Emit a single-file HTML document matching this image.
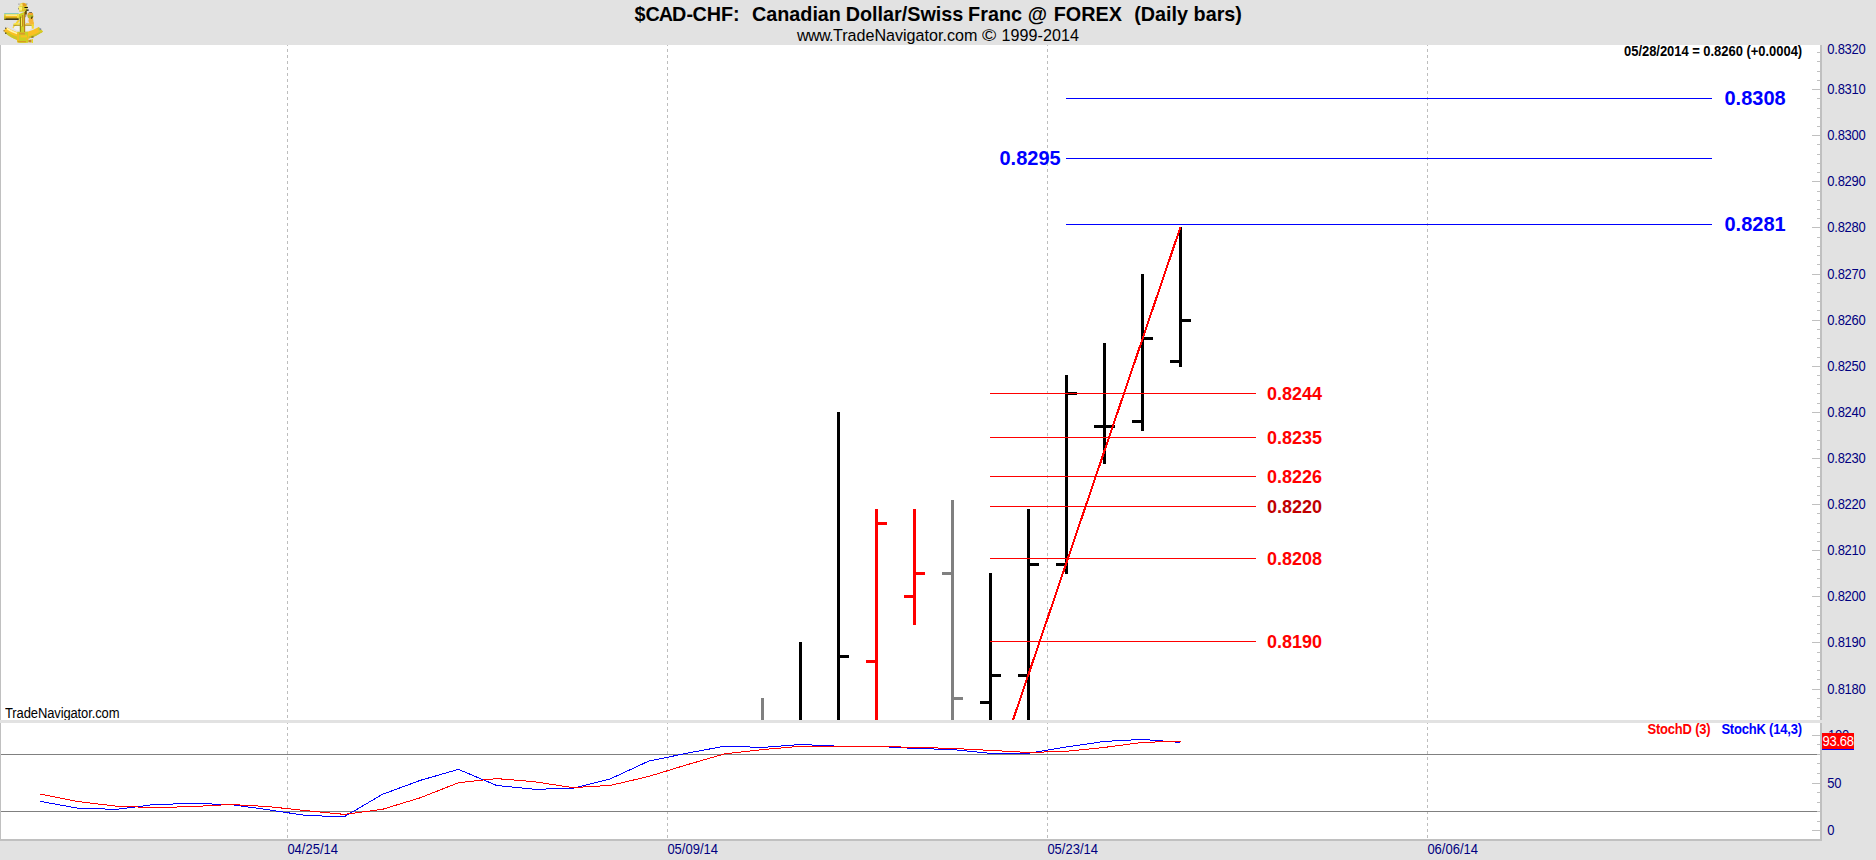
<!DOCTYPE html><html><head><meta charset="utf-8"><title>$CAD-CHF</title><style>
html,body{margin:0;padding:0;background:#fff;}
body{width:1876px;height:860px;position:relative;overflow:hidden;font-family:"Liberation Sans",sans-serif;}
svg{position:absolute;left:0;top:0;}
.t{position:absolute;white-space:pre;line-height:1;}
</style></head><body>
<svg width="1876" height="860" viewBox="0 0 1876 860" shape-rendering="crispEdges">
<rect x="0" y="0" width="1876" height="45" fill="#e2e2e2"/>
<rect x="1822" y="45" width="54" height="815" fill="#e2e2e2"/>
<rect x="0" y="841" width="1876" height="19" fill="#e2e2e2"/>
<rect x="0" y="720" width="1822" height="3" fill="#e2e2e2"/>
<rect x="0" y="45" width="1" height="675" fill="#c0c0c0"/>
<rect x="0" y="723" width="1" height="118" fill="#c0c0c0"/>
<rect x="1820" y="45" width="2" height="675" fill="#c0c0c0"/>
<rect x="1820" y="723" width="2" height="118" fill="#c0c0c0"/>
<rect x="0" y="839" width="1822" height="2" fill="#c0c0c0"/>
<g fill="#bdbdbd">
<rect x="287" y="45" width="1" height="1"/>
<rect x="287" y="49" width="1" height="3"/>
<rect x="287" y="55" width="1" height="3"/>
<rect x="287" y="61" width="1" height="3"/>
<rect x="287" y="67" width="1" height="3"/>
<rect x="287" y="73" width="1" height="3"/>
<rect x="287" y="79" width="1" height="3"/>
<rect x="287" y="85" width="1" height="3"/>
<rect x="287" y="91" width="1" height="3"/>
<rect x="287" y="97" width="1" height="3"/>
<rect x="287" y="103" width="1" height="3"/>
<rect x="287" y="109" width="1" height="3"/>
<rect x="287" y="115" width="1" height="3"/>
<rect x="287" y="121" width="1" height="3"/>
<rect x="287" y="127" width="1" height="3"/>
<rect x="287" y="133" width="1" height="3"/>
<rect x="287" y="139" width="1" height="3"/>
<rect x="287" y="145" width="1" height="3"/>
<rect x="287" y="151" width="1" height="3"/>
<rect x="287" y="157" width="1" height="3"/>
<rect x="287" y="163" width="1" height="3"/>
<rect x="287" y="169" width="1" height="3"/>
<rect x="287" y="175" width="1" height="3"/>
<rect x="287" y="181" width="1" height="3"/>
<rect x="287" y="187" width="1" height="3"/>
<rect x="287" y="193" width="1" height="3"/>
<rect x="287" y="199" width="1" height="3"/>
<rect x="287" y="205" width="1" height="3"/>
<rect x="287" y="211" width="1" height="3"/>
<rect x="287" y="217" width="1" height="3"/>
<rect x="287" y="223" width="1" height="3"/>
<rect x="287" y="229" width="1" height="3"/>
<rect x="287" y="235" width="1" height="3"/>
<rect x="287" y="241" width="1" height="3"/>
<rect x="287" y="247" width="1" height="3"/>
<rect x="287" y="253" width="1" height="3"/>
<rect x="287" y="259" width="1" height="3"/>
<rect x="287" y="265" width="1" height="3"/>
<rect x="287" y="271" width="1" height="3"/>
<rect x="287" y="277" width="1" height="3"/>
<rect x="287" y="283" width="1" height="3"/>
<rect x="287" y="289" width="1" height="3"/>
<rect x="287" y="295" width="1" height="3"/>
<rect x="287" y="301" width="1" height="3"/>
<rect x="287" y="307" width="1" height="3"/>
<rect x="287" y="313" width="1" height="3"/>
<rect x="287" y="319" width="1" height="3"/>
<rect x="287" y="325" width="1" height="3"/>
<rect x="287" y="331" width="1" height="3"/>
<rect x="287" y="337" width="1" height="3"/>
<rect x="287" y="343" width="1" height="3"/>
<rect x="287" y="349" width="1" height="3"/>
<rect x="287" y="355" width="1" height="3"/>
<rect x="287" y="361" width="1" height="3"/>
<rect x="287" y="367" width="1" height="3"/>
<rect x="287" y="373" width="1" height="3"/>
<rect x="287" y="379" width="1" height="3"/>
<rect x="287" y="385" width="1" height="3"/>
<rect x="287" y="391" width="1" height="3"/>
<rect x="287" y="397" width="1" height="3"/>
<rect x="287" y="403" width="1" height="3"/>
<rect x="287" y="409" width="1" height="3"/>
<rect x="287" y="415" width="1" height="3"/>
<rect x="287" y="421" width="1" height="3"/>
<rect x="287" y="427" width="1" height="3"/>
<rect x="287" y="433" width="1" height="3"/>
<rect x="287" y="439" width="1" height="3"/>
<rect x="287" y="445" width="1" height="3"/>
<rect x="287" y="451" width="1" height="3"/>
<rect x="287" y="457" width="1" height="3"/>
<rect x="287" y="463" width="1" height="3"/>
<rect x="287" y="469" width="1" height="3"/>
<rect x="287" y="475" width="1" height="3"/>
<rect x="287" y="481" width="1" height="3"/>
<rect x="287" y="487" width="1" height="3"/>
<rect x="287" y="493" width="1" height="3"/>
<rect x="287" y="499" width="1" height="3"/>
<rect x="287" y="505" width="1" height="3"/>
<rect x="287" y="511" width="1" height="3"/>
<rect x="287" y="517" width="1" height="3"/>
<rect x="287" y="523" width="1" height="3"/>
<rect x="287" y="529" width="1" height="3"/>
<rect x="287" y="535" width="1" height="3"/>
<rect x="287" y="541" width="1" height="3"/>
<rect x="287" y="547" width="1" height="3"/>
<rect x="287" y="553" width="1" height="3"/>
<rect x="287" y="559" width="1" height="3"/>
<rect x="287" y="565" width="1" height="3"/>
<rect x="287" y="571" width="1" height="3"/>
<rect x="287" y="577" width="1" height="3"/>
<rect x="287" y="583" width="1" height="3"/>
<rect x="287" y="589" width="1" height="3"/>
<rect x="287" y="595" width="1" height="3"/>
<rect x="287" y="601" width="1" height="3"/>
<rect x="287" y="607" width="1" height="3"/>
<rect x="287" y="613" width="1" height="3"/>
<rect x="287" y="619" width="1" height="3"/>
<rect x="287" y="625" width="1" height="3"/>
<rect x="287" y="631" width="1" height="3"/>
<rect x="287" y="637" width="1" height="3"/>
<rect x="287" y="643" width="1" height="3"/>
<rect x="287" y="649" width="1" height="3"/>
<rect x="287" y="655" width="1" height="3"/>
<rect x="287" y="661" width="1" height="3"/>
<rect x="287" y="667" width="1" height="3"/>
<rect x="287" y="673" width="1" height="3"/>
<rect x="287" y="679" width="1" height="3"/>
<rect x="287" y="685" width="1" height="3"/>
<rect x="287" y="691" width="1" height="3"/>
<rect x="287" y="697" width="1" height="3"/>
<rect x="287" y="703" width="1" height="3"/>
<rect x="287" y="709" width="1" height="3"/>
<rect x="287" y="715" width="1" height="3"/>
<rect x="287" y="721" width="1" height="3"/>
<rect x="287" y="727" width="1" height="3"/>
<rect x="287" y="733" width="1" height="3"/>
<rect x="287" y="739" width="1" height="3"/>
<rect x="287" y="745" width="1" height="3"/>
<rect x="287" y="751" width="1" height="3"/>
<rect x="287" y="757" width="1" height="3"/>
<rect x="287" y="763" width="1" height="3"/>
<rect x="287" y="769" width="1" height="3"/>
<rect x="287" y="775" width="1" height="3"/>
<rect x="287" y="781" width="1" height="3"/>
<rect x="287" y="787" width="1" height="3"/>
<rect x="287" y="793" width="1" height="3"/>
<rect x="287" y="799" width="1" height="3"/>
<rect x="287" y="805" width="1" height="3"/>
<rect x="287" y="811" width="1" height="3"/>
<rect x="287" y="817" width="1" height="3"/>
<rect x="287" y="823" width="1" height="3"/>
<rect x="287" y="829" width="1" height="3"/>
<rect x="287" y="835" width="1" height="3"/>
</g>
<g fill="#bdbdbd">
<rect x="667" y="45" width="1" height="1"/>
<rect x="667" y="49" width="1" height="3"/>
<rect x="667" y="55" width="1" height="3"/>
<rect x="667" y="61" width="1" height="3"/>
<rect x="667" y="67" width="1" height="3"/>
<rect x="667" y="73" width="1" height="3"/>
<rect x="667" y="79" width="1" height="3"/>
<rect x="667" y="85" width="1" height="3"/>
<rect x="667" y="91" width="1" height="3"/>
<rect x="667" y="97" width="1" height="3"/>
<rect x="667" y="103" width="1" height="3"/>
<rect x="667" y="109" width="1" height="3"/>
<rect x="667" y="115" width="1" height="3"/>
<rect x="667" y="121" width="1" height="3"/>
<rect x="667" y="127" width="1" height="3"/>
<rect x="667" y="133" width="1" height="3"/>
<rect x="667" y="139" width="1" height="3"/>
<rect x="667" y="145" width="1" height="3"/>
<rect x="667" y="151" width="1" height="3"/>
<rect x="667" y="157" width="1" height="3"/>
<rect x="667" y="163" width="1" height="3"/>
<rect x="667" y="169" width="1" height="3"/>
<rect x="667" y="175" width="1" height="3"/>
<rect x="667" y="181" width="1" height="3"/>
<rect x="667" y="187" width="1" height="3"/>
<rect x="667" y="193" width="1" height="3"/>
<rect x="667" y="199" width="1" height="3"/>
<rect x="667" y="205" width="1" height="3"/>
<rect x="667" y="211" width="1" height="3"/>
<rect x="667" y="217" width="1" height="3"/>
<rect x="667" y="223" width="1" height="3"/>
<rect x="667" y="229" width="1" height="3"/>
<rect x="667" y="235" width="1" height="3"/>
<rect x="667" y="241" width="1" height="3"/>
<rect x="667" y="247" width="1" height="3"/>
<rect x="667" y="253" width="1" height="3"/>
<rect x="667" y="259" width="1" height="3"/>
<rect x="667" y="265" width="1" height="3"/>
<rect x="667" y="271" width="1" height="3"/>
<rect x="667" y="277" width="1" height="3"/>
<rect x="667" y="283" width="1" height="3"/>
<rect x="667" y="289" width="1" height="3"/>
<rect x="667" y="295" width="1" height="3"/>
<rect x="667" y="301" width="1" height="3"/>
<rect x="667" y="307" width="1" height="3"/>
<rect x="667" y="313" width="1" height="3"/>
<rect x="667" y="319" width="1" height="3"/>
<rect x="667" y="325" width="1" height="3"/>
<rect x="667" y="331" width="1" height="3"/>
<rect x="667" y="337" width="1" height="3"/>
<rect x="667" y="343" width="1" height="3"/>
<rect x="667" y="349" width="1" height="3"/>
<rect x="667" y="355" width="1" height="3"/>
<rect x="667" y="361" width="1" height="3"/>
<rect x="667" y="367" width="1" height="3"/>
<rect x="667" y="373" width="1" height="3"/>
<rect x="667" y="379" width="1" height="3"/>
<rect x="667" y="385" width="1" height="3"/>
<rect x="667" y="391" width="1" height="3"/>
<rect x="667" y="397" width="1" height="3"/>
<rect x="667" y="403" width="1" height="3"/>
<rect x="667" y="409" width="1" height="3"/>
<rect x="667" y="415" width="1" height="3"/>
<rect x="667" y="421" width="1" height="3"/>
<rect x="667" y="427" width="1" height="3"/>
<rect x="667" y="433" width="1" height="3"/>
<rect x="667" y="439" width="1" height="3"/>
<rect x="667" y="445" width="1" height="3"/>
<rect x="667" y="451" width="1" height="3"/>
<rect x="667" y="457" width="1" height="3"/>
<rect x="667" y="463" width="1" height="3"/>
<rect x="667" y="469" width="1" height="3"/>
<rect x="667" y="475" width="1" height="3"/>
<rect x="667" y="481" width="1" height="3"/>
<rect x="667" y="487" width="1" height="3"/>
<rect x="667" y="493" width="1" height="3"/>
<rect x="667" y="499" width="1" height="3"/>
<rect x="667" y="505" width="1" height="3"/>
<rect x="667" y="511" width="1" height="3"/>
<rect x="667" y="517" width="1" height="3"/>
<rect x="667" y="523" width="1" height="3"/>
<rect x="667" y="529" width="1" height="3"/>
<rect x="667" y="535" width="1" height="3"/>
<rect x="667" y="541" width="1" height="3"/>
<rect x="667" y="547" width="1" height="3"/>
<rect x="667" y="553" width="1" height="3"/>
<rect x="667" y="559" width="1" height="3"/>
<rect x="667" y="565" width="1" height="3"/>
<rect x="667" y="571" width="1" height="3"/>
<rect x="667" y="577" width="1" height="3"/>
<rect x="667" y="583" width="1" height="3"/>
<rect x="667" y="589" width="1" height="3"/>
<rect x="667" y="595" width="1" height="3"/>
<rect x="667" y="601" width="1" height="3"/>
<rect x="667" y="607" width="1" height="3"/>
<rect x="667" y="613" width="1" height="3"/>
<rect x="667" y="619" width="1" height="3"/>
<rect x="667" y="625" width="1" height="3"/>
<rect x="667" y="631" width="1" height="3"/>
<rect x="667" y="637" width="1" height="3"/>
<rect x="667" y="643" width="1" height="3"/>
<rect x="667" y="649" width="1" height="3"/>
<rect x="667" y="655" width="1" height="3"/>
<rect x="667" y="661" width="1" height="3"/>
<rect x="667" y="667" width="1" height="3"/>
<rect x="667" y="673" width="1" height="3"/>
<rect x="667" y="679" width="1" height="3"/>
<rect x="667" y="685" width="1" height="3"/>
<rect x="667" y="691" width="1" height="3"/>
<rect x="667" y="697" width="1" height="3"/>
<rect x="667" y="703" width="1" height="3"/>
<rect x="667" y="709" width="1" height="3"/>
<rect x="667" y="715" width="1" height="3"/>
<rect x="667" y="721" width="1" height="3"/>
<rect x="667" y="727" width="1" height="3"/>
<rect x="667" y="733" width="1" height="3"/>
<rect x="667" y="739" width="1" height="3"/>
<rect x="667" y="745" width="1" height="3"/>
<rect x="667" y="751" width="1" height="3"/>
<rect x="667" y="757" width="1" height="3"/>
<rect x="667" y="763" width="1" height="3"/>
<rect x="667" y="769" width="1" height="3"/>
<rect x="667" y="775" width="1" height="3"/>
<rect x="667" y="781" width="1" height="3"/>
<rect x="667" y="787" width="1" height="3"/>
<rect x="667" y="793" width="1" height="3"/>
<rect x="667" y="799" width="1" height="3"/>
<rect x="667" y="805" width="1" height="3"/>
<rect x="667" y="811" width="1" height="3"/>
<rect x="667" y="817" width="1" height="3"/>
<rect x="667" y="823" width="1" height="3"/>
<rect x="667" y="829" width="1" height="3"/>
<rect x="667" y="835" width="1" height="3"/>
</g>
<g fill="#bdbdbd">
<rect x="1047" y="45" width="1" height="1"/>
<rect x="1047" y="49" width="1" height="3"/>
<rect x="1047" y="55" width="1" height="3"/>
<rect x="1047" y="61" width="1" height="3"/>
<rect x="1047" y="67" width="1" height="3"/>
<rect x="1047" y="73" width="1" height="3"/>
<rect x="1047" y="79" width="1" height="3"/>
<rect x="1047" y="85" width="1" height="3"/>
<rect x="1047" y="91" width="1" height="3"/>
<rect x="1047" y="97" width="1" height="3"/>
<rect x="1047" y="103" width="1" height="3"/>
<rect x="1047" y="109" width="1" height="3"/>
<rect x="1047" y="115" width="1" height="3"/>
<rect x="1047" y="121" width="1" height="3"/>
<rect x="1047" y="127" width="1" height="3"/>
<rect x="1047" y="133" width="1" height="3"/>
<rect x="1047" y="139" width="1" height="3"/>
<rect x="1047" y="145" width="1" height="3"/>
<rect x="1047" y="151" width="1" height="3"/>
<rect x="1047" y="157" width="1" height="3"/>
<rect x="1047" y="163" width="1" height="3"/>
<rect x="1047" y="169" width="1" height="3"/>
<rect x="1047" y="175" width="1" height="3"/>
<rect x="1047" y="181" width="1" height="3"/>
<rect x="1047" y="187" width="1" height="3"/>
<rect x="1047" y="193" width="1" height="3"/>
<rect x="1047" y="199" width="1" height="3"/>
<rect x="1047" y="205" width="1" height="3"/>
<rect x="1047" y="211" width="1" height="3"/>
<rect x="1047" y="217" width="1" height="3"/>
<rect x="1047" y="223" width="1" height="3"/>
<rect x="1047" y="229" width="1" height="3"/>
<rect x="1047" y="235" width="1" height="3"/>
<rect x="1047" y="241" width="1" height="3"/>
<rect x="1047" y="247" width="1" height="3"/>
<rect x="1047" y="253" width="1" height="3"/>
<rect x="1047" y="259" width="1" height="3"/>
<rect x="1047" y="265" width="1" height="3"/>
<rect x="1047" y="271" width="1" height="3"/>
<rect x="1047" y="277" width="1" height="3"/>
<rect x="1047" y="283" width="1" height="3"/>
<rect x="1047" y="289" width="1" height="3"/>
<rect x="1047" y="295" width="1" height="3"/>
<rect x="1047" y="301" width="1" height="3"/>
<rect x="1047" y="307" width="1" height="3"/>
<rect x="1047" y="313" width="1" height="3"/>
<rect x="1047" y="319" width="1" height="3"/>
<rect x="1047" y="325" width="1" height="3"/>
<rect x="1047" y="331" width="1" height="3"/>
<rect x="1047" y="337" width="1" height="3"/>
<rect x="1047" y="343" width="1" height="3"/>
<rect x="1047" y="349" width="1" height="3"/>
<rect x="1047" y="355" width="1" height="3"/>
<rect x="1047" y="361" width="1" height="3"/>
<rect x="1047" y="367" width="1" height="3"/>
<rect x="1047" y="373" width="1" height="3"/>
<rect x="1047" y="379" width="1" height="3"/>
<rect x="1047" y="385" width="1" height="3"/>
<rect x="1047" y="391" width="1" height="3"/>
<rect x="1047" y="397" width="1" height="3"/>
<rect x="1047" y="403" width="1" height="3"/>
<rect x="1047" y="409" width="1" height="3"/>
<rect x="1047" y="415" width="1" height="3"/>
<rect x="1047" y="421" width="1" height="3"/>
<rect x="1047" y="427" width="1" height="3"/>
<rect x="1047" y="433" width="1" height="3"/>
<rect x="1047" y="439" width="1" height="3"/>
<rect x="1047" y="445" width="1" height="3"/>
<rect x="1047" y="451" width="1" height="3"/>
<rect x="1047" y="457" width="1" height="3"/>
<rect x="1047" y="463" width="1" height="3"/>
<rect x="1047" y="469" width="1" height="3"/>
<rect x="1047" y="475" width="1" height="3"/>
<rect x="1047" y="481" width="1" height="3"/>
<rect x="1047" y="487" width="1" height="3"/>
<rect x="1047" y="493" width="1" height="3"/>
<rect x="1047" y="499" width="1" height="3"/>
<rect x="1047" y="505" width="1" height="3"/>
<rect x="1047" y="511" width="1" height="3"/>
<rect x="1047" y="517" width="1" height="3"/>
<rect x="1047" y="523" width="1" height="3"/>
<rect x="1047" y="529" width="1" height="3"/>
<rect x="1047" y="535" width="1" height="3"/>
<rect x="1047" y="541" width="1" height="3"/>
<rect x="1047" y="547" width="1" height="3"/>
<rect x="1047" y="553" width="1" height="3"/>
<rect x="1047" y="559" width="1" height="3"/>
<rect x="1047" y="565" width="1" height="3"/>
<rect x="1047" y="571" width="1" height="3"/>
<rect x="1047" y="577" width="1" height="3"/>
<rect x="1047" y="583" width="1" height="3"/>
<rect x="1047" y="589" width="1" height="3"/>
<rect x="1047" y="595" width="1" height="3"/>
<rect x="1047" y="601" width="1" height="3"/>
<rect x="1047" y="607" width="1" height="3"/>
<rect x="1047" y="613" width="1" height="3"/>
<rect x="1047" y="619" width="1" height="3"/>
<rect x="1047" y="625" width="1" height="3"/>
<rect x="1047" y="631" width="1" height="3"/>
<rect x="1047" y="637" width="1" height="3"/>
<rect x="1047" y="643" width="1" height="3"/>
<rect x="1047" y="649" width="1" height="3"/>
<rect x="1047" y="655" width="1" height="3"/>
<rect x="1047" y="661" width="1" height="3"/>
<rect x="1047" y="667" width="1" height="3"/>
<rect x="1047" y="673" width="1" height="3"/>
<rect x="1047" y="679" width="1" height="3"/>
<rect x="1047" y="685" width="1" height="3"/>
<rect x="1047" y="691" width="1" height="3"/>
<rect x="1047" y="697" width="1" height="3"/>
<rect x="1047" y="703" width="1" height="3"/>
<rect x="1047" y="709" width="1" height="3"/>
<rect x="1047" y="715" width="1" height="3"/>
<rect x="1047" y="721" width="1" height="3"/>
<rect x="1047" y="727" width="1" height="3"/>
<rect x="1047" y="733" width="1" height="3"/>
<rect x="1047" y="739" width="1" height="3"/>
<rect x="1047" y="745" width="1" height="3"/>
<rect x="1047" y="751" width="1" height="3"/>
<rect x="1047" y="757" width="1" height="3"/>
<rect x="1047" y="763" width="1" height="3"/>
<rect x="1047" y="769" width="1" height="3"/>
<rect x="1047" y="775" width="1" height="3"/>
<rect x="1047" y="781" width="1" height="3"/>
<rect x="1047" y="787" width="1" height="3"/>
<rect x="1047" y="793" width="1" height="3"/>
<rect x="1047" y="799" width="1" height="3"/>
<rect x="1047" y="805" width="1" height="3"/>
<rect x="1047" y="811" width="1" height="3"/>
<rect x="1047" y="817" width="1" height="3"/>
<rect x="1047" y="823" width="1" height="3"/>
<rect x="1047" y="829" width="1" height="3"/>
<rect x="1047" y="835" width="1" height="3"/>
</g>
<g fill="#bdbdbd">
<rect x="1427" y="45" width="1" height="1"/>
<rect x="1427" y="49" width="1" height="3"/>
<rect x="1427" y="55" width="1" height="3"/>
<rect x="1427" y="61" width="1" height="3"/>
<rect x="1427" y="67" width="1" height="3"/>
<rect x="1427" y="73" width="1" height="3"/>
<rect x="1427" y="79" width="1" height="3"/>
<rect x="1427" y="85" width="1" height="3"/>
<rect x="1427" y="91" width="1" height="3"/>
<rect x="1427" y="97" width="1" height="3"/>
<rect x="1427" y="103" width="1" height="3"/>
<rect x="1427" y="109" width="1" height="3"/>
<rect x="1427" y="115" width="1" height="3"/>
<rect x="1427" y="121" width="1" height="3"/>
<rect x="1427" y="127" width="1" height="3"/>
<rect x="1427" y="133" width="1" height="3"/>
<rect x="1427" y="139" width="1" height="3"/>
<rect x="1427" y="145" width="1" height="3"/>
<rect x="1427" y="151" width="1" height="3"/>
<rect x="1427" y="157" width="1" height="3"/>
<rect x="1427" y="163" width="1" height="3"/>
<rect x="1427" y="169" width="1" height="3"/>
<rect x="1427" y="175" width="1" height="3"/>
<rect x="1427" y="181" width="1" height="3"/>
<rect x="1427" y="187" width="1" height="3"/>
<rect x="1427" y="193" width="1" height="3"/>
<rect x="1427" y="199" width="1" height="3"/>
<rect x="1427" y="205" width="1" height="3"/>
<rect x="1427" y="211" width="1" height="3"/>
<rect x="1427" y="217" width="1" height="3"/>
<rect x="1427" y="223" width="1" height="3"/>
<rect x="1427" y="229" width="1" height="3"/>
<rect x="1427" y="235" width="1" height="3"/>
<rect x="1427" y="241" width="1" height="3"/>
<rect x="1427" y="247" width="1" height="3"/>
<rect x="1427" y="253" width="1" height="3"/>
<rect x="1427" y="259" width="1" height="3"/>
<rect x="1427" y="265" width="1" height="3"/>
<rect x="1427" y="271" width="1" height="3"/>
<rect x="1427" y="277" width="1" height="3"/>
<rect x="1427" y="283" width="1" height="3"/>
<rect x="1427" y="289" width="1" height="3"/>
<rect x="1427" y="295" width="1" height="3"/>
<rect x="1427" y="301" width="1" height="3"/>
<rect x="1427" y="307" width="1" height="3"/>
<rect x="1427" y="313" width="1" height="3"/>
<rect x="1427" y="319" width="1" height="3"/>
<rect x="1427" y="325" width="1" height="3"/>
<rect x="1427" y="331" width="1" height="3"/>
<rect x="1427" y="337" width="1" height="3"/>
<rect x="1427" y="343" width="1" height="3"/>
<rect x="1427" y="349" width="1" height="3"/>
<rect x="1427" y="355" width="1" height="3"/>
<rect x="1427" y="361" width="1" height="3"/>
<rect x="1427" y="367" width="1" height="3"/>
<rect x="1427" y="373" width="1" height="3"/>
<rect x="1427" y="379" width="1" height="3"/>
<rect x="1427" y="385" width="1" height="3"/>
<rect x="1427" y="391" width="1" height="3"/>
<rect x="1427" y="397" width="1" height="3"/>
<rect x="1427" y="403" width="1" height="3"/>
<rect x="1427" y="409" width="1" height="3"/>
<rect x="1427" y="415" width="1" height="3"/>
<rect x="1427" y="421" width="1" height="3"/>
<rect x="1427" y="427" width="1" height="3"/>
<rect x="1427" y="433" width="1" height="3"/>
<rect x="1427" y="439" width="1" height="3"/>
<rect x="1427" y="445" width="1" height="3"/>
<rect x="1427" y="451" width="1" height="3"/>
<rect x="1427" y="457" width="1" height="3"/>
<rect x="1427" y="463" width="1" height="3"/>
<rect x="1427" y="469" width="1" height="3"/>
<rect x="1427" y="475" width="1" height="3"/>
<rect x="1427" y="481" width="1" height="3"/>
<rect x="1427" y="487" width="1" height="3"/>
<rect x="1427" y="493" width="1" height="3"/>
<rect x="1427" y="499" width="1" height="3"/>
<rect x="1427" y="505" width="1" height="3"/>
<rect x="1427" y="511" width="1" height="3"/>
<rect x="1427" y="517" width="1" height="3"/>
<rect x="1427" y="523" width="1" height="3"/>
<rect x="1427" y="529" width="1" height="3"/>
<rect x="1427" y="535" width="1" height="3"/>
<rect x="1427" y="541" width="1" height="3"/>
<rect x="1427" y="547" width="1" height="3"/>
<rect x="1427" y="553" width="1" height="3"/>
<rect x="1427" y="559" width="1" height="3"/>
<rect x="1427" y="565" width="1" height="3"/>
<rect x="1427" y="571" width="1" height="3"/>
<rect x="1427" y="577" width="1" height="3"/>
<rect x="1427" y="583" width="1" height="3"/>
<rect x="1427" y="589" width="1" height="3"/>
<rect x="1427" y="595" width="1" height="3"/>
<rect x="1427" y="601" width="1" height="3"/>
<rect x="1427" y="607" width="1" height="3"/>
<rect x="1427" y="613" width="1" height="3"/>
<rect x="1427" y="619" width="1" height="3"/>
<rect x="1427" y="625" width="1" height="3"/>
<rect x="1427" y="631" width="1" height="3"/>
<rect x="1427" y="637" width="1" height="3"/>
<rect x="1427" y="643" width="1" height="3"/>
<rect x="1427" y="649" width="1" height="3"/>
<rect x="1427" y="655" width="1" height="3"/>
<rect x="1427" y="661" width="1" height="3"/>
<rect x="1427" y="667" width="1" height="3"/>
<rect x="1427" y="673" width="1" height="3"/>
<rect x="1427" y="679" width="1" height="3"/>
<rect x="1427" y="685" width="1" height="3"/>
<rect x="1427" y="691" width="1" height="3"/>
<rect x="1427" y="697" width="1" height="3"/>
<rect x="1427" y="703" width="1" height="3"/>
<rect x="1427" y="709" width="1" height="3"/>
<rect x="1427" y="715" width="1" height="3"/>
<rect x="1427" y="721" width="1" height="3"/>
<rect x="1427" y="727" width="1" height="3"/>
<rect x="1427" y="733" width="1" height="3"/>
<rect x="1427" y="739" width="1" height="3"/>
<rect x="1427" y="745" width="1" height="3"/>
<rect x="1427" y="751" width="1" height="3"/>
<rect x="1427" y="757" width="1" height="3"/>
<rect x="1427" y="763" width="1" height="3"/>
<rect x="1427" y="769" width="1" height="3"/>
<rect x="1427" y="775" width="1" height="3"/>
<rect x="1427" y="781" width="1" height="3"/>
<rect x="1427" y="787" width="1" height="3"/>
<rect x="1427" y="793" width="1" height="3"/>
<rect x="1427" y="799" width="1" height="3"/>
<rect x="1427" y="805" width="1" height="3"/>
<rect x="1427" y="811" width="1" height="3"/>
<rect x="1427" y="817" width="1" height="3"/>
<rect x="1427" y="823" width="1" height="3"/>
<rect x="1427" y="829" width="1" height="3"/>
<rect x="1427" y="835" width="1" height="3"/>
</g>
<g fill="#c0c0c0">
<rect x="1817" y="52" width="3" height="1"/>
<rect x="1817" y="61" width="3" height="1"/>
<rect x="1817" y="71" width="3" height="1"/>
<rect x="1817" y="80" width="3" height="1"/>
<rect x="1812" y="89" width="8" height="1"/>
<rect x="1817" y="98" width="3" height="1"/>
<rect x="1817" y="108" width="3" height="1"/>
<rect x="1817" y="117" width="3" height="1"/>
<rect x="1817" y="126" width="3" height="1"/>
<rect x="1812" y="135" width="8" height="1"/>
<rect x="1817" y="144" width="3" height="1"/>
<rect x="1817" y="154" width="3" height="1"/>
<rect x="1817" y="163" width="3" height="1"/>
<rect x="1817" y="172" width="3" height="1"/>
<rect x="1812" y="181" width="8" height="1"/>
<rect x="1817" y="191" width="3" height="1"/>
<rect x="1817" y="200" width="3" height="1"/>
<rect x="1817" y="209" width="3" height="1"/>
<rect x="1817" y="218" width="3" height="1"/>
<rect x="1812" y="227" width="8" height="1"/>
<rect x="1817" y="237" width="3" height="1"/>
<rect x="1817" y="246" width="3" height="1"/>
<rect x="1817" y="255" width="3" height="1"/>
<rect x="1817" y="264" width="3" height="1"/>
<rect x="1812" y="274" width="8" height="1"/>
<rect x="1817" y="283" width="3" height="1"/>
<rect x="1817" y="292" width="3" height="1"/>
<rect x="1817" y="301" width="3" height="1"/>
<rect x="1817" y="310" width="3" height="1"/>
<rect x="1812" y="320" width="8" height="1"/>
<rect x="1817" y="329" width="3" height="1"/>
<rect x="1817" y="338" width="3" height="1"/>
<rect x="1817" y="347" width="3" height="1"/>
<rect x="1817" y="357" width="3" height="1"/>
<rect x="1812" y="366" width="8" height="1"/>
<rect x="1817" y="375" width="3" height="1"/>
<rect x="1817" y="384" width="3" height="1"/>
<rect x="1817" y="393" width="3" height="1"/>
<rect x="1817" y="403" width="3" height="1"/>
<rect x="1812" y="412" width="8" height="1"/>
<rect x="1817" y="421" width="3" height="1"/>
<rect x="1817" y="430" width="3" height="1"/>
<rect x="1817" y="440" width="3" height="1"/>
<rect x="1817" y="449" width="3" height="1"/>
<rect x="1812" y="458" width="8" height="1"/>
<rect x="1817" y="467" width="3" height="1"/>
<rect x="1817" y="476" width="3" height="1"/>
<rect x="1817" y="486" width="3" height="1"/>
<rect x="1817" y="495" width="3" height="1"/>
<rect x="1812" y="504" width="8" height="1"/>
<rect x="1817" y="513" width="3" height="1"/>
<rect x="1817" y="523" width="3" height="1"/>
<rect x="1817" y="532" width="3" height="1"/>
<rect x="1817" y="541" width="3" height="1"/>
<rect x="1812" y="550" width="8" height="1"/>
<rect x="1817" y="559" width="3" height="1"/>
<rect x="1817" y="569" width="3" height="1"/>
<rect x="1817" y="578" width="3" height="1"/>
<rect x="1817" y="587" width="3" height="1"/>
<rect x="1812" y="596" width="8" height="1"/>
<rect x="1817" y="606" width="3" height="1"/>
<rect x="1817" y="615" width="3" height="1"/>
<rect x="1817" y="624" width="3" height="1"/>
<rect x="1817" y="633" width="3" height="1"/>
<rect x="1812" y="642" width="8" height="1"/>
<rect x="1817" y="652" width="3" height="1"/>
<rect x="1817" y="661" width="3" height="1"/>
<rect x="1817" y="670" width="3" height="1"/>
<rect x="1817" y="679" width="3" height="1"/>
<rect x="1812" y="689" width="8" height="1"/>
<rect x="1817" y="698" width="3" height="1"/>
<rect x="1817" y="707" width="3" height="1"/>
<rect x="1817" y="716" width="3" height="1"/>
<rect x="1812" y="830" width="8" height="1"/>
<rect x="1817" y="821" width="3" height="1"/>
<rect x="1817" y="811" width="3" height="1"/>
<rect x="1817" y="802" width="3" height="1"/>
<rect x="1817" y="792" width="3" height="1"/>
<rect x="1812" y="783" width="8" height="1"/>
<rect x="1817" y="773" width="3" height="1"/>
<rect x="1817" y="763" width="3" height="1"/>
<rect x="1817" y="754" width="3" height="1"/>
<rect x="1817" y="744" width="3" height="1"/>
<rect x="1812" y="735" width="8" height="1"/>
</g>
<rect x="1" y="754" width="1816" height="1" fill="#808080"/>
<rect x="1" y="811" width="1816" height="1" fill="#808080"/>
<rect x="1066" y="98" width="646" height="1" fill="#0000ff"/>
<rect x="1066" y="158" width="646" height="1" fill="#0000ff"/>
<rect x="1066" y="224" width="646" height="1" fill="#0000ff"/>
<g fill="#808080">
<rect x="761" y="698" width="3" height="22"/>
</g>
<g fill="#000">
<rect x="799" y="642" width="3" height="78"/>
</g>
<g fill="#000">
<rect x="837" y="412" width="3" height="308"/>
<rect x="840" y="655" width="9" height="3"/>
</g>
<g fill="#ff0000">
<rect x="875" y="509" width="3" height="211"/>
<rect x="866" y="660" width="9" height="3"/>
<rect x="878" y="522" width="9" height="3"/>
</g>
<g fill="#ff0000">
<rect x="913" y="509" width="3" height="116"/>
<rect x="904" y="595" width="9" height="3"/>
<rect x="916" y="572" width="9" height="3"/>
</g>
<g fill="#808080">
<rect x="951" y="500" width="3" height="220"/>
<rect x="942" y="572" width="9" height="3"/>
<rect x="954" y="697" width="9" height="3"/>
</g>
<g fill="#000">
<rect x="989" y="573" width="3" height="147"/>
<rect x="980" y="701" width="9" height="3"/>
<rect x="992" y="674" width="9" height="3"/>
</g>
<g fill="#000">
<rect x="1027" y="509" width="3" height="211"/>
<rect x="1018" y="674" width="9" height="3"/>
<rect x="1030" y="563" width="9" height="3"/>
</g>
<g fill="#000">
<rect x="1065" y="375" width="3" height="199"/>
<rect x="1056" y="563" width="9" height="3"/>
<rect x="1068" y="392" width="9" height="3"/>
</g>
<g fill="#000">
<rect x="1103" y="343" width="3" height="121"/>
<rect x="1094" y="425" width="9" height="3"/>
<rect x="1106" y="425" width="9" height="3"/>
</g>
<g fill="#000">
<rect x="1141" y="274" width="3" height="157"/>
<rect x="1132" y="420" width="9" height="3"/>
<rect x="1144" y="337" width="9" height="3"/>
</g>
<g fill="#000">
<rect x="1179" y="227" width="3" height="140"/>
<rect x="1170" y="360" width="9" height="3"/>
<rect x="1182" y="319" width="9" height="3"/>
</g>
<rect x="990" y="393" width="266" height="1" fill="#ff0000"/>
<rect x="990" y="437" width="266" height="1" fill="#ff0000"/>
<rect x="990" y="476" width="266" height="1" fill="#ff0000"/>
<rect x="990" y="506" width="266" height="1" fill="#ff0000"/>
<rect x="990" y="558" width="266" height="1" fill="#ff0000"/>
<rect x="990" y="641" width="266" height="1" fill="#ff0000"/>
<clipPath id="cp"><rect x="0" y="45" width="1820" height="675"/></clipPath>
<line x1="1180.5" y1="227" x2="1011.3" y2="725" stroke="#ff0000" stroke-width="2" clip-path="url(#cp)"/>
<polyline points="40.5,801.4 78.5,808.3 116.5,809.3 154.5,804.5 192.5,803.5 230.5,804.5 268.5,809.8 306.5,815.6 344.5,816.6 382.5,794.3 420.5,780.3 458.5,769.4 496.5,785.4 534.5,789.3 572.5,788.3 610.5,778.8 648.5,761.2 686.5,753.3 724.5,746.2 762.5,747.4 800.5,744.5 838.5,746.2 876.5,746.3 914.5,748.4 952.5,749.6 990.5,753.3 1028.5,753.3 1066.5,747.0 1104.5,741.4 1142.5,739.4 1180.5,742.4" fill="none" stroke="#0000ff" stroke-width="1"/>
<polyline points="40.5,794.1 78.5,801.6 116.5,806.2 154.5,807.6 192.5,806.6 230.5,804.5 268.5,806.6 306.5,810.7 344.5,814.4 382.5,809.3 420.5,797.7 458.5,782.7 496.5,778.6 534.5,781.7 572.5,787.6 610.5,785.4 648.5,776.5 686.5,764.9 724.5,753.9 762.5,749.6 800.5,746.3 838.5,746.3 876.5,746.3 914.5,747.4 952.5,748.4 990.5,750.4 1028.5,752.5 1066.5,751.3 1104.5,747.4 1142.5,742.4 1180.5,741.2" fill="none" stroke="#ff0000" stroke-width="1"/>
<rect x="1822" y="733" width="32" height="17" fill="#ff0000"/>
<rect x="1822" y="749" width="32" height="1" fill="#0000ff"/>
</svg>
<svg width="48" height="48" viewBox="0 0 48 48" style="left:0;top:0">
<defs>
<linearGradient id="tg" x1="0" y1="0" x2="0" y2="1"><stop offset="0" stop-color="#84cabf"/><stop offset="0.13" stop-color="#8fcdb8"/><stop offset="0.2" stop-color="#e6e064"/><stop offset="0.3" stop-color="#fffcc8"/><stop offset="0.48" stop-color="#ffc423"/><stop offset="0.68" stop-color="#c9a21a"/><stop offset="0.84" stop-color="#5e5010"/><stop offset="1" stop-color="#0c0c06"/></linearGradient>
</defs>
<!-- arc band -->
<path d="M3.5 30.7 L7.1 27.4 Q12.5 30.6 17.9 32.6 L27.6 31.8 Q33.6 30 38.8 27 L43 31.5 Q36 36.6 28.6 38.6 L28.2 42.4 Q22.5 43.3 17.2 42.3 L17 39.8 Q9.6 37.4 3.5 30.7 Z" fill="#fbc021"/>
<path d="M7.3 27.7 Q12.6 31 17.9 33 L17.6 34.6 Q11.6 32.8 6.6 29.2 Z" fill="#fff5a8"/>
<path d="M4.4 32.2 Q10 37.6 17 39.9 L17.2 36.4 Q12 35.4 8.6 32.6 Z" fill="#cdc526"/>
<path d="M28.6 38.7 Q36 36.6 42.6 32 L41.6 31 Q35.4 34.8 28.8 36.6 Z" fill="#c9c325"/>
<path d="M38.8 27.2 L42.9 31.5 L40.8 33 L37.2 28.4 Z" fill="#d3cb2a"/>
<rect x="3.3" y="30.2" width="1.6" height="1.2" fill="#8a6a3a" opacity=".7"/>
<rect x="5" y="32.6" width="1.4" height="1.2" fill="#201808" opacity=".8"/>
<rect x="5" y="27.6" width="1.3" height="1.2" fill="#2a2208" opacity=".8"/>
<rect x="31.4" y="36.6" width="2.2" height="1" fill="#3a1c04" opacity=".8"/>
<rect x="39.6" y="28.4" width="1.6" height="1.4" fill="#3a62e0" opacity=".7"/>
<!-- base -->
<path d="M17.3 31.8 L28 31.8 L28.2 42.4 Q22.5 43.3 17.2 42.3 Z" fill="#cbd023"/>
<path d="M19.2 32.6 L25 32.6 L25 34.6 L19.2 34.6 Z" fill="#dc9a2c"/>
<path d="M20.6 35.4 L27 35.4 L27 37.4 L20.6 37.4 Z" fill="#fbc021"/>
<path d="M17.4 33 L18.8 33 L18.8 41.6 L17.4 41.6 Z" fill="#f6b820"/>
<path d="M26.4 37.6 L28 37.6 L28 40 L26.4 40 Z" fill="#f6b820"/>
<path d="M18 41 L26 41 L26 42.2 L18 42.2 Z" fill="#d89a20"/>
<!-- little foot -->
<path d="M28.4 40 L31.6 39.4 L31.6 42.4 L28.4 42.2 Z" fill="#c88a1c"/>
<rect x="31.8" y="39" width="1.2" height="4" fill="#e6dc22"/>
<!-- frame legs / crossbar -->
<path d="M18 19.6 L20 20.4 L14 28.4 L12.4 27.4 Z" fill="#f2d23c"/>
<path d="M13.3 24.5 L33.7 24.5 L33.7 25.8 L13.3 25.8 Z" fill="#b09818"/>
<path d="M13.6 23.2 L20 23.2 L20 24.6 L13.6 24.6 Z" fill="#fbe640"/>
<path d="M26 23.2 L33.6 23.2 L33.6 24.6 L26 24.6 Z" fill="#fbc438"/>
<path d="M31.4 22 L33.7 22 L33.9 28.6 L31.8 28.8 Z" fill="#f4dc30"/>
<path d="M14.8 25.9 L19.6 25.9 L19.6 30.6 L16.8 30.2 L13.4 28.2 Z" fill="#f1f1ec"/>
<path d="M25.2 26 L31.2 26 L31.4 28.8 L28.6 30.4 L25.2 30.4 Z" fill="#f1f1ec"/>
<!-- central column -->
<path d="M18.6 14.2 L26.6 11 L26.6 16 L25.1 17.6 L25.1 32 L19.9 32 L19.9 19.4 L18.6 19.4 Z" fill="#cdd024"/>
<rect x="19.9" y="16.6" width="1" height="15.2" fill="#8a7a14"/>
<rect x="22.2" y="15" width="1" height="11.6" fill="#c8781c"/>
<rect x="24.2" y="12" width="0.9" height="20" fill="#b86c18"/>
<rect x="21" y="18" width="1" height="8" fill="#f4ec50"/>
<!-- top knob -->
<path d="M19.6 8.2 L27 8.2 L26.8 11.6 L19.2 11.8 Z" fill="#d2c626"/>
<ellipse cx="23.2" cy="5.4" rx="3.5" ry="2.7" fill="#e0c028"/>
<path d="M22.2 3 Q25.8 2.8 26.4 6.4 L23.4 6.6 Z" fill="#e49a26"/>
<path d="M20.2 4.2 L22.2 3 L22.6 6.4 L20 6.6 Z" fill="#fbe870"/>
<path d="M18.5 6.6 L27.7 6.6 L27.8 8.4 L18.7 8.4 Z" fill="#d8cc2a"/>
<path d="M18.6 6.8 L22 6.8 L22 10.6 L19.6 10.8 Q18.2 9 18.6 6.8 Z" fill="#fbf070"/>
<rect x="22.4" y="8.8" width="1.6" height="1.6" fill="#fbc021"/>
<path d="M24.4 6.9 L27.8 6.9 L27.9 8.1 L24.6 8.1 Z" fill="#181004"/>
<path d="M26.4 9.6 L28.6 9.6 L28.6 10.8 L26.2 10.8 Z" fill="#120c04"/>
<path d="M25.2 10.8 L26.6 10.8 L26.8 16 L25.2 17.4 Z" fill="#4a3608"/>
<rect x="18.2" y="3.6" width="1.4" height="1" fill="#555" opacity=".55"/>
<rect x="26.2" y="3.4" width="1.2" height="1.2" fill="#555" opacity=".5"/>
<rect x="18" y="8.2" width="1" height="1.2" fill="#444" opacity=".6"/>
<!-- telescope -->
<rect x="4.2" y="13" width="14.5" height="6.9" fill="url(#tg)"/>
<rect x="4.2" y="14.4" width="1.4" height="5" fill="#c9c325" opacity=".85"/>
<rect x="17" y="14.2" width="1.8" height="3.6" fill="#f6e040"/>
<!-- right small knob -->
<path d="M29 18 L33 18 L33.9 24.2 L30 24.2 L28.4 21 Z" fill="#f6b636"/>
<circle cx="30.4" cy="15.4" r="3.1" fill="#e9a42a"/>
<path d="M27.6 15 L33.4 15 L33 18 L28.2 18 Z" fill="#b9bd2a"/>
<path d="M29 12.9 Q30.4 12.2 31.8 13 L31.4 15 L29.4 15 Z" fill="#f4a630"/>
<rect x="29.2" y="12" width="2.8" height="1" fill="#5a5a50" opacity=".8"/>
<path d="M31.6 16.6 L33 16.6 L32 18.8 L30.8 18.8 Z" fill="#3a2c08"/>
<rect x="25.4" y="14.4" width="1.8" height="8" fill="#e8e8ff" opacity=".75"/>
<rect x="33.4" y="13.6" width="1" height="2.4" fill="#d8f4f0" opacity=".8"/>
</svg>
<div class="t" style="left:634.5px;top:4.9px;font-size:19.8px;color:#000;font-weight:bold;transform:scaleY(1.05);transform-origin:0 84.65%;">$C<span style="position:relative;left:-1px">A</span><span style="position:relative;left:-2px">D-</span><span style="position:relative;left:-2.6px">CHF:</span>  <span style="position:relative;left:-1.3px">Canadian</span> <span style="position:relative;left:-2.1px">Dollar/Swiss</span> <span style="position:relative;left:-2.8px">Franc</span> <span style="position:relative;left:-2.5px">@</span> <span style="position:relative;left:-1.4px">FOREX</span>  (Daily bars)</div>
<div class="t" style="left:797px;top:26.5px;font-size:16.13px;color:#000;font-weight:normal;transform:scaleY(1.04);transform-origin:0 84.65%;"><span style="letter-spacing:-0.65px">www.</span>TradeNavigator.com <span style="display:inline-block;transform:scaleX(1.2);transform-origin:0 0">&copy;</span> <span style="margin-left:3.4px;letter-spacing:0.03px">1999-2014</span></div>
<div class="t" style="left:1624px;top:45.4px;font-size:13px;color:#000;font-weight:bold;transform:scaleY(1.07);transform-origin:0 84.65%;letter-spacing:-0.04px;">05/28/2014 = 0.8260 (+0.0004)</div>
<div class="t" style="left:5px;top:706.5px;font-size:13px;color:#000;font-weight:normal;transform:scaleY(1.07);transform-origin:0 84.65%;letter-spacing:-0.12px;">TradeNavigator.com</div>
<div style="position:absolute;left:0;top:720px;width:1822px;height:3px;background:#e2e2e2"></div>
<div class="t" style="left:1647.5px;top:722.6px;font-size:13px;color:#ff0000;font-weight:bold;transform:scaleY(1.07);transform-origin:0 84.65%;letter-spacing:-0.2px;">StochD (3)</div>
<div class="t" style="left:1721.4px;top:722.6px;font-size:13px;color:#0000ff;font-weight:bold;transform:scaleY(1.07);transform-origin:0 84.65%;letter-spacing:-0.2px;">StochK (14,3)</div>
<div class="t" style="left:1827.3px;top:42.7px;font-size:13px;color:#000080;font-weight:normal;transform:scaleY(1.07);transform-origin:0 84.65%;letter-spacing:-0.25px;">0.8320</div>
<div class="t" style="left:1827.3px;top:82.65px;font-size:13px;color:#000080;font-weight:normal;transform:scaleY(1.07);transform-origin:0 84.65%;letter-spacing:-0.25px;">0.8310</div>
<div class="t" style="left:1827.3px;top:128.65px;font-size:13px;color:#000080;font-weight:normal;transform:scaleY(1.07);transform-origin:0 84.65%;letter-spacing:-0.25px;">0.8300</div>
<div class="t" style="left:1827.3px;top:174.65px;font-size:13px;color:#000080;font-weight:normal;transform:scaleY(1.07);transform-origin:0 84.65%;letter-spacing:-0.25px;">0.8290</div>
<div class="t" style="left:1827.3px;top:220.65px;font-size:13px;color:#000080;font-weight:normal;transform:scaleY(1.07);transform-origin:0 84.65%;letter-spacing:-0.25px;">0.8280</div>
<div class="t" style="left:1827.3px;top:267.65px;font-size:13px;color:#000080;font-weight:normal;transform:scaleY(1.07);transform-origin:0 84.65%;letter-spacing:-0.25px;">0.8270</div>
<div class="t" style="left:1827.3px;top:313.65px;font-size:13px;color:#000080;font-weight:normal;transform:scaleY(1.07);transform-origin:0 84.65%;letter-spacing:-0.25px;">0.8260</div>
<div class="t" style="left:1827.3px;top:359.65px;font-size:13px;color:#000080;font-weight:normal;transform:scaleY(1.07);transform-origin:0 84.65%;letter-spacing:-0.25px;">0.8250</div>
<div class="t" style="left:1827.3px;top:405.65px;font-size:13px;color:#000080;font-weight:normal;transform:scaleY(1.07);transform-origin:0 84.65%;letter-spacing:-0.25px;">0.8240</div>
<div class="t" style="left:1827.3px;top:451.65px;font-size:13px;color:#000080;font-weight:normal;transform:scaleY(1.07);transform-origin:0 84.65%;letter-spacing:-0.25px;">0.8230</div>
<div class="t" style="left:1827.3px;top:497.65px;font-size:13px;color:#000080;font-weight:normal;transform:scaleY(1.07);transform-origin:0 84.65%;letter-spacing:-0.25px;">0.8220</div>
<div class="t" style="left:1827.3px;top:543.65px;font-size:13px;color:#000080;font-weight:normal;transform:scaleY(1.07);transform-origin:0 84.65%;letter-spacing:-0.25px;">0.8210</div>
<div class="t" style="left:1827.3px;top:589.65px;font-size:13px;color:#000080;font-weight:normal;transform:scaleY(1.07);transform-origin:0 84.65%;letter-spacing:-0.25px;">0.8200</div>
<div class="t" style="left:1827.3px;top:635.65px;font-size:13px;color:#000080;font-weight:normal;transform:scaleY(1.07);transform-origin:0 84.65%;letter-spacing:-0.25px;">0.8190</div>
<div class="t" style="left:1827.3px;top:682.65px;font-size:13px;color:#000080;font-weight:normal;transform:scaleY(1.07);transform-origin:0 84.65%;letter-spacing:-0.25px;">0.8180</div>
<div class="t" style="left:1828px;top:728.6px;font-size:13px;color:#000080;font-weight:normal;transform:scaleY(1.07);transform-origin:0 84.65%;letter-spacing:-0.25px;clip-path:inset(0 0 8.6px 0);">100</div>
<div class="t" style="left:1822.5px;top:734.6px;font-size:13px;color:#fff;font-weight:normal;transform:scaleY(1.07);transform-origin:0 84.65%;letter-spacing:-0.25px;">93.68</div>
<div class="t" style="left:1827.3px;top:776.6px;font-size:13px;color:#000080;font-weight:normal;transform:scaleY(1.07);transform-origin:0 84.65%;letter-spacing:-0.25px;">50</div>
<div class="t" style="left:1827.3px;top:823.6px;font-size:13px;color:#000080;font-weight:normal;transform:scaleY(1.07);transform-origin:0 84.65%;letter-spacing:-0.25px;">0</div>
<div class="t" style="left:287.4px;top:842.6px;font-size:13px;color:#000080;font-weight:normal;transform:scaleY(1.07);transform-origin:0 84.65%;">04/25/14</div>
<div class="t" style="left:667.4px;top:842.6px;font-size:13px;color:#000080;font-weight:normal;transform:scaleY(1.07);transform-origin:0 84.65%;">05/09/14</div>
<div class="t" style="left:1047.4px;top:842.6px;font-size:13px;color:#000080;font-weight:normal;transform:scaleY(1.07);transform-origin:0 84.65%;">05/23/14</div>
<div class="t" style="left:1427.4px;top:842.6px;font-size:13px;color:#000080;font-weight:normal;transform:scaleY(1.07);transform-origin:0 84.65%;">06/06/14</div>
<div class="t" style="left:1724.5px;top:88px;font-size:20px;color:#0000ff;font-weight:bold;transform:scaleY(1.05);transform-origin:0 84.65%;">0.8308</div>
<div class="t" style="left:999.5px;top:148px;font-size:20px;color:#0000ff;font-weight:bold;transform:scaleY(1.05);transform-origin:0 84.65%;">0.8295</div>
<div class="t" style="left:1724.5px;top:214px;font-size:20px;color:#0000ff;font-weight:bold;transform:scaleY(1.05);transform-origin:0 84.65%;">0.8281</div>
<div class="t" style="left:1267px;top:385px;font-size:18px;color:#ff0000;font-weight:bold;transform:scaleY(1.02);transform-origin:0 84.65%;">0.8244</div>
<div class="t" style="left:1267px;top:429px;font-size:18px;color:#ff0000;font-weight:bold;transform:scaleY(1.02);transform-origin:0 84.65%;">0.8235</div>
<div class="t" style="left:1267px;top:468px;font-size:18px;color:#ff0000;font-weight:bold;transform:scaleY(1.02);transform-origin:0 84.65%;">0.8226</div>
<div class="t" style="left:1267px;top:498px;font-size:18px;color:#c00000;font-weight:bold;transform:scaleY(1.02);transform-origin:0 84.65%;">0.8220</div>
<div class="t" style="left:1267px;top:550px;font-size:18px;color:#ff0000;font-weight:bold;transform:scaleY(1.02);transform-origin:0 84.65%;">0.8208</div>
<div class="t" style="left:1267px;top:633px;font-size:18px;color:#ff0000;font-weight:bold;transform:scaleY(1.02);transform-origin:0 84.65%;">0.8190</div>
</body></html>
